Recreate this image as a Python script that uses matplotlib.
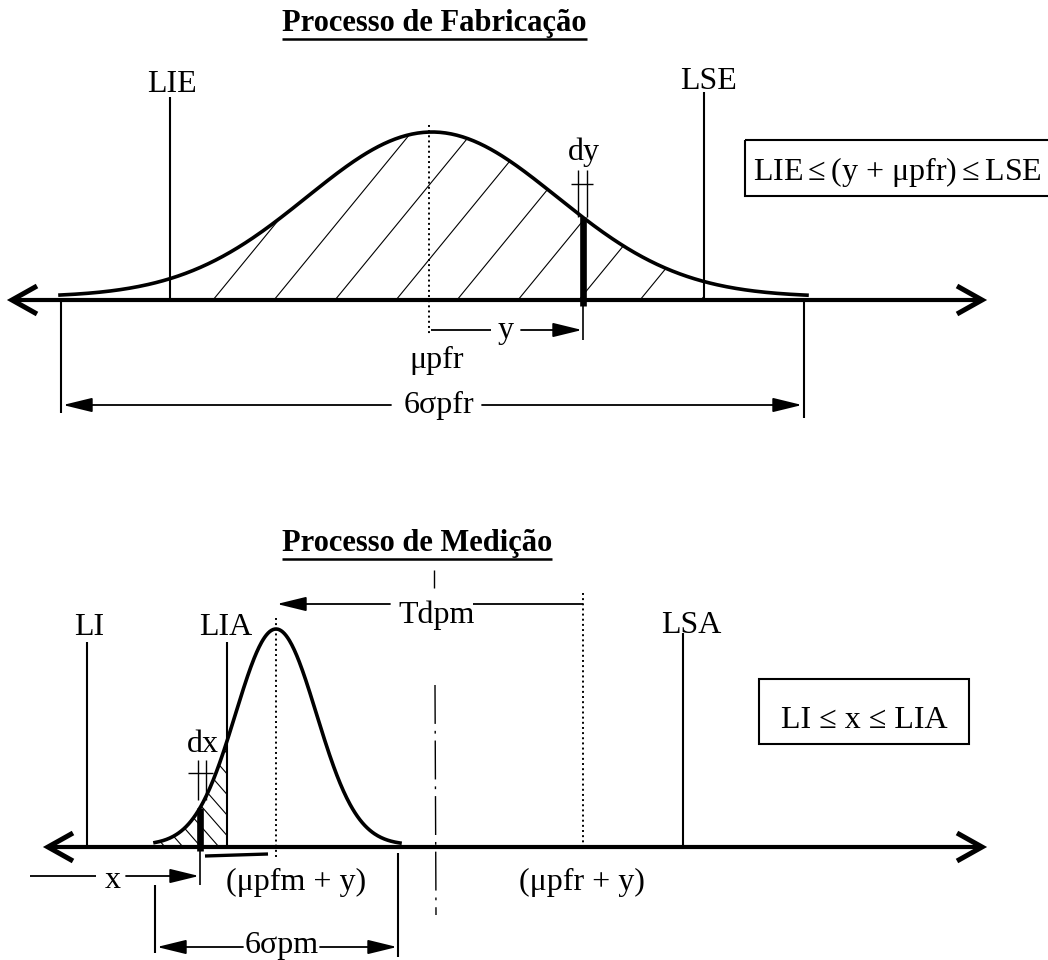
import numpy as np
import matplotlib
matplotlib.use("Agg")
import matplotlib.pyplot as plt
from matplotlib.patches import Polygon, Rectangle

FONT = ['Liberation Serif', 'DejaVu Serif']
plt.rcParams['font.family'] = FONT

# ---------------- data (diagram coordinates, pixels) ----------------
# Processo de Fabricação
FAB_AXIS_Y = 300
FAB_LIMIT_LABELS = ['LIE', 'LSE']
FAB_LIMIT_X = [170, 704]
FAB_LIMIT_TOP = [97, 92]
FAB_MEAN = 432
FAB_SIGMA = 125
FAB_PEAK = 165
FAB_Y_POS = 583          # position of (y + μpfr)
FAB_SPAN = [61, 804]     # 6σpfr span

# Processo de Medição
MED_AXIS_Y = 847
MED_LIMIT_LABELS = ['LI', 'LIA', 'LSA']
MED_LIMIT_X = [87, 227, 683]
MED_LIMIT_TOP = [642, 642, 633]
MED_MEAN = 276
MED_SIGMA = 40.5
MED_PEAK = 216
MED_X_POS = 200          # position of x
MED_TARGET = 583         # (μpfr + y)
MED_CENTER = 434         # dash-dot centre line
MED_SPAN = [155, 398]    # 6σpm span

BOX_TEXTS = ['LIE$\\,$≤$\\,$(y + μpfr)$\\,$≤$\\,$LSE', 'LI ≤ x ≤ LIA']

FS = 23

fig = plt.figure(figsize=(10.48, 9.6), dpi=100)
ax = fig.add_axes([0, 0, 1, 1])
ax.set_xlim(0, 1048)
ax.set_ylim(960, 0)
ax.axis('off')


def line(x, y, lw=1.4, ls='-', **kw):
    return ax.plot(x, y, color='k', lw=lw, ls=ls, solid_capstyle='butt', **kw)[0]


def arrow(tail, tip, lw=1.3):
    ax.annotate('', xy=tip, xytext=tail, xycoords='data', textcoords='data',
                arrowprops=dict(arrowstyle='-|>,head_length=0.9,head_width=0.22',
                                lw=lw, color='k', shrinkA=0, shrinkB=0,
                                mutation_scale=20))


def label(x, y, s, fs=FS, ha='center', **kw):
    return ax.text(x, y, s, ha=ha, va='baseline', fontsize=fs, family=FONT, **kw)


def axis_with_chevrons(x0, x1, y):
    line([x0 + 2, x1 - 2], [y, y], lw=3.0)
    for tip, d in ((x0, 1), (x1, -1)):
        ax.plot([tip + d * 25, tip, tip + d * 25], [y - 14, y, y + 14],
                color='k', lw=3.6, solid_joinstyle='miter', solid_capstyle='butt')


def gauss(x, mu, s, peak, base):
    return base - peak * np.exp(-0.5 * ((x - mu) / s) ** 2)


def hatch(poly_xy, bases, direction, base_y, lw=0.8):
    patch = Polygon(poly_xy, closed=True, facecolor='none', edgecolor='none')
    ax.add_patch(patch)
    dx, dy = direction
    for b in bases:
        ln = line([b, b + dx * 6], [base_y, base_y + dy * 6], lw=lw)
        ln.set_clip_path(patch)


# ---------------- titles ----------------
titles = []
for txt, base_y in (('Processo de Fabricação', 31), ('Processo de Medição', 551)):
    t = ax.text(282, base_y, txt, ha='left', va='baseline', fontsize=22,
                fontweight='bold', family=FONT)
    titles.append((t, base_y))
fig.canvas.draw()
inv = ax.transData.inverted()
for t, base_y in titles:
    bb = t.get_window_extent()
    (xa, _), (xb, _) = inv.transform([[bb.x0, bb.y0], [bb.x1, bb.y1]])
    line([xa, xb], [base_y + 8, base_y + 8], lw=1.8)

# ---------------- Processo de Fabricação ----------------
axis_with_chevrons(12, 982, FAB_AXIS_Y)

xs = np.linspace(FAB_SPAN[0] - 1, FAB_SPAN[1] + 3, 400)
ax.plot(xs, gauss(xs, FAB_MEAN, FAB_SIGMA, FAB_PEAK, FAB_AXIS_Y - 3), color='k', lw=2.6)

# hatched area between LIE and LSE
hx = np.linspace(FAB_LIMIT_X[0], FAB_LIMIT_X[1], 300)
hy = gauss(hx, FAB_MEAN, FAB_SIGMA, FAB_PEAK, FAB_AXIS_Y - 3)
poly = np.column_stack([np.r_[hx, hx[-1], hx[0]], np.r_[hy, FAB_AXIS_Y, FAB_AXIS_Y]])
hatch(poly, np.arange(152, 780, 61), (68, -83), FAB_AXIS_Y)

for lab, x, top in zip(FAB_LIMIT_LABELS, FAB_LIMIT_X, FAB_LIMIT_TOP):
    line([x, x], [top, FAB_AXIS_Y], lw=1.5)
label(172, 92, 'LIE')
label(709, 89, 'LSE')

# mean dotted line
line([FAB_MEAN - 3, FAB_MEAN - 3], [125, 336], lw=1.4, ls=':')

# dy strip
ytop = gauss(FAB_Y_POS, FAB_MEAN, FAB_SIGMA, FAB_PEAK, FAB_AXIS_Y - 3)
line([FAB_Y_POS, FAB_Y_POS], [ytop, FAB_AXIS_Y + 6], lw=4.8)
line([578, 578], [170, 217], lw=1.0)
line([587, 587], [170, 217], lw=1.0)
line([571, 593], [184, 184], lw=1.0)
label(584, 160, 'dy')

# y dimension
line([FAB_Y_POS, FAB_Y_POS], [FAB_AXIS_Y, 340], lw=1.2)
line([FAB_MEAN - 1, 491], [330, 330], lw=1.3)
arrow((521, 330), (FAB_Y_POS - 1, 330))
label(506, 338, 'y')
label(437, 368, 'μpfr')

# 6σpfr dimension
line([FAB_SPAN[0], FAB_SPAN[0]], [FAB_AXIS_Y, 413], lw=1.5)
line([FAB_SPAN[1], FAB_SPAN[1]], [FAB_AXIS_Y, 418], lw=1.5)
arrow((391, 405), (FAB_SPAN[0] + 2, 405))
arrow((482, 405), (FAB_SPAN[1] - 2, 405))
label(439, 413, '6σpfr')

# condition box
ax.add_patch(Rectangle((745, 140), 310, 56, fill=False, lw=1.5, ec='k'))
label(897, 180, BOX_TEXTS[0])

# ---------------- Processo de Medição ----------------
axis_with_chevrons(48, 982, MED_AXIS_Y)

xs = np.linspace(MED_SPAN[0], MED_SPAN[1] + 2, 300)
ax.plot(xs, gauss(xs, MED_MEAN, MED_SIGMA, MED_PEAK, MED_AXIS_Y - 2), color='k', lw=2.6)

# hatched tail up to LIA
hx = np.linspace(MED_SPAN[0], MED_LIMIT_X[1], 200)
hy = gauss(hx, MED_MEAN, MED_SIGMA, MED_PEAK, MED_AXIS_Y - 2)
poly = np.column_stack([np.r_[hx, hx[-1], hx[0]], np.r_[hy, MED_AXIS_Y, MED_AXIS_Y]])
hatch(poly, np.arange(165, 340, 18), (-35, -40), MED_AXIS_Y)

for lab, x, top in zip(MED_LIMIT_LABELS, MED_LIMIT_X, MED_LIMIT_TOP):
    line([x, x], [top, MED_AXIS_Y], lw=1.5)
label(89, 635, 'LI')
label(226, 635, 'LIA')
label(691, 633, 'LSA')

# mean dotted line and target dotted line
line([MED_MEAN, MED_MEAN], [618, 857], lw=1.4, ls=':')
line([MED_TARGET, MED_TARGET], [593, MED_AXIS_Y], lw=1.4, ls=':')

# dash-dot centre line
line([MED_CENTER, MED_CENTER], [570, 588], lw=1.0)
line([MED_CENTER + 1, MED_CENTER + 2], [685, 915], lw=1.0, ls=(0, (28, 5, 2, 5)))

# Tdpm
arrow((390, 604), (MED_MEAN + 1, 604))
line([473, MED_TARGET], [604, 604], lw=1.3)
label(437, 623, 'Tdpm')

# dx strip
ytop = gauss(MED_X_POS, MED_MEAN, MED_SIGMA, MED_PEAK, MED_AXIS_Y - 2)
line([MED_X_POS, MED_X_POS], [ytop, MED_AXIS_Y + 4], lw=4.8)
line([198, 198], [760, 800], lw=1.0)
line([206, 206], [760, 800], lw=1.0)
line([188, 213], [773, 773], lw=1.0)
label(203, 752, 'dx')

# underline below axis
line([205, 268], [856, 854], lw=2.4)

# x dimension
line([MED_X_POS, MED_X_POS], [MED_AXIS_Y, 885], lw=1.2)
line([30, 96], [876, 876], lw=1.3)
arrow((126, 876), (MED_X_POS - 1, 876))
label(113, 888, 'x')
label(296, 890, '(μpfm + y)')
label(582, 890, '(μpfr + y)')

# 6σpm dimension
line([MED_SPAN[0], MED_SPAN[0]], [885, 953], lw=1.5)
line([MED_SPAN[1], MED_SPAN[1]], [853, 957], lw=1.5)
arrow((243, 947), (MED_SPAN[0] + 2, 947))
arrow((320, 947), (MED_SPAN[1] - 1, 947))
label(282, 953, '6σpm')

# condition box
ax.add_patch(Rectangle((759, 679), 210, 65, fill=False, lw=1.5, ec='k'))
label(864, 728, BOX_TEXTS[1])

fig.savefig('out.png', dpi=100, facecolor='white')
